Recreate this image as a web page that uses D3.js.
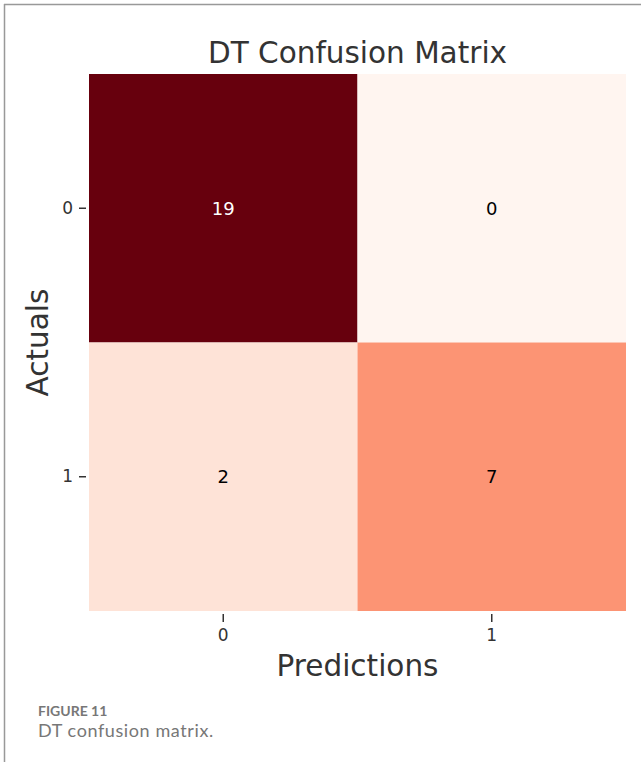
<!DOCTYPE html>
<html>
<head>
<meta charset="utf-8">
<script src="https://cdn.jsdelivr.net/npm/d3@7"></script>
<style>
  html, body { margin: 0; padding: 0; background: #fff; }
  svg { display: block; }
</style>
</head>
<body>
<div id="chart"></div>
<script>
// confusion matrix values (rows = actuals, cols = predictions)
var actualLabels = ["0", "1"];
var predictedLabels = ["0", "1"];
var row0 = [19, 0];
var row1 = [2, 7];

var width = 641, height = 762;

// matplotlib "Reds" colormap stops
var redsStops = ["#fff5f0", "#fee0d2", "#fcbba1", "#fc9272", "#fb6a4a", "#ef3b2c", "#cb181d", "#a50f15", "#67000d"];

var cells = [];
[row0, row1].forEach(function(row, r) {
  row.forEach(function(v, c) {
    cells.push({ actual: actualLabels[r], predicted: predictedLabels[c], value: v });
  });
});

var maxVal = d3.max(cells, function(d) { return d.value; });
var color = d3.scaleLinear()
  .domain(d3.range(redsStops.length).map(function(i) { return i / (redsStops.length - 1) * maxVal; }))
  .range(redsStops)
  .interpolate(d3.interpolateRgb);

var svg = d3.select("#chart").append("svg")
  .attr("width", width)
  .attr("height", height);

// frame lines (top + left)
svg.append("line").attr("x1", 4.5).attr("x2", 4.5).attr("y1", 4).attr("y2", height)
  .attr("stroke", "#999").attr("stroke-width", 1.5);
svg.append("line").attr("x1", 4).attr("x2", width).attr("y1", 4.5).attr("y2", 4.5)
  .attr("stroke", "#999").attr("stroke-width", 1.5);

var plot = { left: 89, top: 74, right: 626, bottom: 611 };

var x = d3.scaleBand().domain(predictedLabels).range([plot.left, plot.right]);
var y = d3.scaleBand().domain(actualLabels).range([plot.top, plot.bottom]);

var g = svg.append("g");

g.selectAll("rect")
  .data(cells)
  .enter().append("rect")
  .attr("x", function(d) { return x(d.predicted); })
  .attr("y", function(d) { return y(d.actual); })
  .attr("width", x.bandwidth())
  .attr("height", y.bandwidth())
  .attr("fill", function(d) { return color(d.value); });

g.selectAll("text.val")
  .data(cells)
  .enter().append("text")
  .attr("class", "val")
  .attr("x", function(d) { return x(d.predicted) + x.bandwidth() / 2; })
  .attr("y", function(d) { return y(d.actual) + y.bandwidth() / 2; })
  .attr("dy", "0.35em")
  .attr("text-anchor", "middle")
  .style("font-family", "DejaVu Sans, sans-serif")
  .style("font-size", "18px")
  .attr("fill", function(d) { return d.value > maxVal / 2 ? "#fff" : "#000"; })
  .text(function(d) { return d.value; });

// axes
var yAxis = d3.axisLeft(y).tickSize(7).tickPadding(6);
var yG = svg.append("g").attr("transform", "translate(" + (plot.left - 3) + ",0)").call(yAxis);
var xAxis = d3.axisBottom(x).tickSize(8).tickPadding(7);
var xG = svg.append("g").attr("transform", "translate(0," + (plot.bottom + 3) + ")").call(xAxis);

[yG, xG].forEach(function(a) {
  a.select(".domain").remove();
  a.selectAll(".tick line").attr("stroke", "#333").attr("stroke-width", 1.5);
  a.selectAll(".tick text")
    .attr("fill", "#333")
    .style("font-family", "DejaVu Sans, sans-serif")
    .style("font-size", "17px");
});

// title and axis labels
svg.append("text")
  .attr("x", (plot.left + plot.right) / 2)
  .attr("y", 63)
  .attr("text-anchor", "middle")
  .attr("fill", "#333")
  .style("font-family", "DejaVu Sans, sans-serif")
  .style("font-size", "29.5px")
  .text("DT Confusion Matrix");

svg.append("text")
  .attr("x", (plot.left + plot.right) / 2)
  .attr("y", 676)
  .attr("text-anchor", "middle")
  .attr("fill", "#333")
  .style("font-family", "DejaVu Sans, sans-serif")
  .style("font-size", "29.5px")
  .text("Predictions");

svg.append("text")
  .attr("transform", "translate(48," + ((plot.top + plot.bottom) / 2) + ") rotate(-90)")
  .attr("text-anchor", "middle")
  .attr("fill", "#333")
  .style("font-family", "DejaVu Sans, sans-serif")
  .style("font-size", "29.5px")
  .text("Actuals");

// caption
svg.append("text")
  .attr("x", 38).attr("y", 716)
  .attr("fill", "#777")
  .style("font-family", "Lato, sans-serif")
  .style("font-weight", "bold")
  .style("font-size", "14px")
  .text("FIGURE 11");

svg.append("text")
  .attr("x", 38).attr("y", 737)
  .attr("fill", "#777")
  .style("font-family", "Lato, sans-serif")
  .style("font-size", "18px")
  .style("letter-spacing", "0.6px")
  .text("DT confusion matrix.");
</script>
</body>
</html>
